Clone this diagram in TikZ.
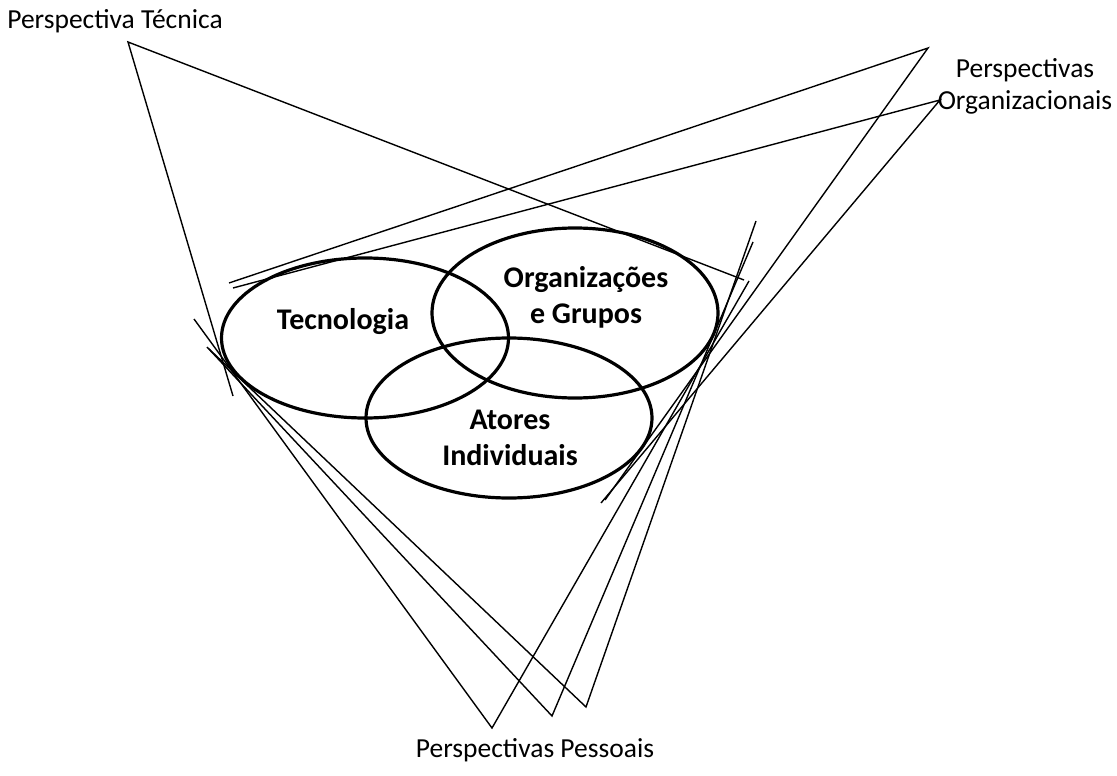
\documentclass[tikz,border=0pt]{standalone}
\usepackage{fontspec}
\setmainfont{Carlito}
\usetikzlibrary{shapes.geometric}
\begin{document}
\begin{tikzpicture}[x=1pt,y=-1pt,
  view/.style={line width=1.4pt, black},
  setshape/.style={ellipse, draw, line width=3.2pt, inner sep=0pt},
  plabel/.style={font=\fontsize{27.5}{32}\selectfont, align=center, inner sep=0pt},
  blabel/.style={font=\fontsize{30}{36}\selectfont\bfseries, align=center, inner sep=0pt}]
\useasboundingbox (0,0) rectangle (1117,776);

% the three overlapping domains
\node[setshape, minimum width=287, minimum height=160] (tec) at (365,338) {};
\node[setshape, minimum width=286, minimum height=170] (org) at (575,313) {};
\node[setshape, minimum width=286, minimum height=160] (ator) at (509,418) {};

\node[blabel] (tecT) at (343,322) {Tecnologia};
\node[blabel] (orgT) at (586,297) {Organizações\\e Grupos};
\node[blabel] (atorT) at (510,438) {Atores\\Individuais};

% perspective labels
\node[plabel] (pTec) at (115,21) {Perspectiva Técnica};
\node[plabel] (pOrg) at (1025,86) {Perspectivas\\Organizacionais};
\node[plabel] (pPes) at (535,750) {Perspectivas Pessoais};

% viewpoints (apexes of the viewing cones)
\coordinate (vT)  at (128,42);
\coordinate (vO1) at (928,48);
\coordinate (vO2) at (940,100);
\coordinate (vPA) at (492,728);
\coordinate (vPB) at (552,716);
\coordinate (vPC) at (586,707);

% far ends of the sight lines
\coordinate (eT1)  at (233,396);
\coordinate (eT2)  at (744,280);
\coordinate (eO1a) at (229,283);
\coordinate (eO1b) at (605,500);
\coordinate (eO2a) at (233,288);
\coordinate (eO2b) at (601,503);
\coordinate (ePAl) at (194,319);
\coordinate (ePAr) at (749,281);
\coordinate (ePBl) at (207,347);
\coordinate (ePBr) at (753,242);
\coordinate (ePCl) at (209,349);
\coordinate (ePCr) at (756,221);

% sight lines
\draw[view] (eT1) -- (vT) -- (eT2);
\draw[view] (eO1a) -- (vO1) -- (eO1b);
\draw[view] (eO2a) -- (vO2) -- (eO2b);
\draw[view] (ePAl) -- (vPA) -- (ePAr);
\draw[view] (ePBl) -- (vPB) -- (ePBr);
\draw[view] (ePCl) -- (vPC) -- (ePCr);
\end{tikzpicture}
\end{document}
